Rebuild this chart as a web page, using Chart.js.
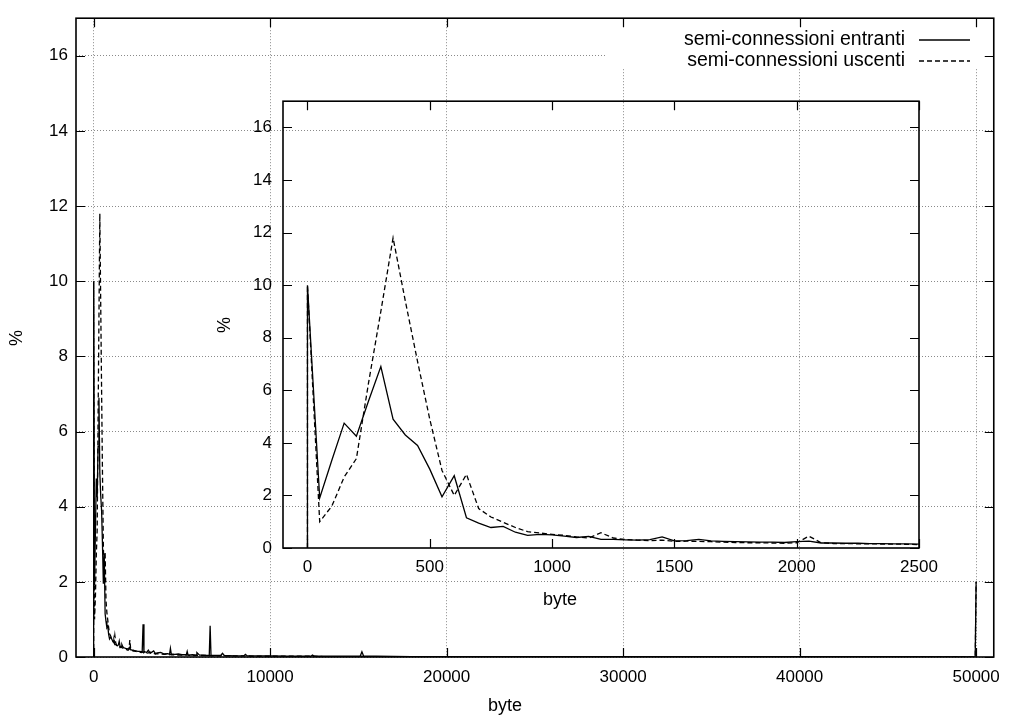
<!DOCTYPE html>
<html>
<head>
<meta charset="utf-8">
<script src="https://cdn.jsdelivr.net/npm/chart.js@4/dist/chart.umd.min.js"></script>
<style>
  html, body { margin: 0; padding: 0; background: #fff; }
  #wrap { position: relative; width: 1010px; height: 718px; }
  #main { position: absolute; left: 0; top: 0; width: 1010px; height: 718px; }
  #inset { position: absolute; left: 200px; top: 80px; width: 760px; height: 540px; }
</style>
</head>
<body>
<div id="wrap">
  <canvas id="main" width="1010" height="718"></canvas>
  <canvas id="inset" width="760" height="540"></canvas>
</div>
<script>
// Size distribution of half-connections, percentage per 50-byte bin
const seriesLabels = ['semi-connessioni entranti', 'semi-connessioni uscenti'];

const binBytes = [0, 50, 100, 150, 200, 250, 300, 350, 400, 450, 500, 550, 600, 650, 700, 750,
  800, 850, 900, 950, 1000, 1050, 1100, 1150, 1200, 1250, 1300, 1350, 1400, 1450, 1500, 1550,
  1600, 1650, 1700, 1750, 1800, 1850, 1900, 1950, 2000, 2050, 2100, 2150, 2200, 2250, 2300,
  2350, 2400, 2450, 2500];

const binIn = [10.0, 1.9, 3.35, 4.75, 4.25, 5.6, 6.9, 4.9, 4.3, 3.9, 3.0, 1.95, 2.75, 1.15, 0.95, 0.78,
  0.82, 0.6, 0.48, 0.52, 0.5, 0.45, 0.4, 0.44, 0.33, 0.33, 0.31, 0.3, 0.32, 0.42, 0.27, 0.28,
  0.33, 0.27, 0.25, 0.24, 0.23, 0.22, 0.22, 0.21, 0.24, 0.26, 0.19, 0.19, 0.18, 0.18, 0.17,
  0.17, 0.16, 0.16, 0.15];

const binOut = [10.0, 1.0, 1.6, 2.7, 3.4, 6.3, 9.0, 11.8, 9.4, 7.1, 4.9, 2.95, 2.0, 2.8, 1.5, 1.18,
  0.98, 0.78, 0.62, 0.57, 0.52, 0.48, 0.42, 0.38, 0.58, 0.38, 0.32, 0.3, 0.28, 0.3, 0.25, 0.26,
  0.25, 0.24, 0.22, 0.21, 0.2, 0.2, 0.19, 0.18, 0.2, 0.45, 0.2, 0.17, 0.17, 0.16, 0.16,
  0.15, 0.15, 0.14, 0.13];

// Long tail beyond 2500 bytes
const tailBytes = [2600, 2700, 2750, 2800, 2850, 2900, 3000, 3100, 3200, 3300, 3400, 3500, 3600,
  3800, 4000, 4200, 4300, 4350, 4400, 4600, 4800, 5000, 5250, 5300, 5350, 5600, 5800, 5850,
  6000, 6200, 6400, 6550, 6600, 6650, 6800, 7000, 7200, 7300, 7400, 8000, 8500, 8600, 8700,
  9000, 9500, 10000, 11000, 12000, 12300, 12400, 12500, 13000, 14000, 15100, 15200, 15300,
  16000, 18000, 20000, 25000, 30000, 35000, 40000, 45000, 49950, 50000];

const tailIn = [0.15, 0.14, 0.13, 0.87, 0.12, 0.14, 0.12, 0.18, 0.10, 0.13, 0.16, 0.09, 0.11,
  0.12, 0.08, 0.09, 0.07, 0.23, 0.08, 0.07, 0.08, 0.06, 0.06, 0.15, 0.05, 0.06, 0.05, 0.12,
  0.05, 0.05, 0.04, 0.04, 0.83, 0.04, 0.04, 0.04, 0.04, 0.10, 0.04, 0.03, 0.03, 0.07, 0.03,
  0.03, 0.03, 0.03, 0.02, 0.02, 0.02, 0.05, 0.02, 0.02, 0.02, 0.02, 0.14, 0.02,
  0.02, 0.01, 0.01, 0.01, 0.01, 0.01, 0.01, 0.01, 0.00, 2.00];

const tailOut = [0.13, 0.12, 0.13, 0.14, 0.11, 0.12, 0.10, 0.11, 0.13, 0.09, 0.10, 0.08, 0.09,
  0.08, 0.07, 0.08, 0.06, 0.07, 0.06, 0.06, 0.05, 0.05, 0.05, 0.06, 0.05, 0.04, 0.04, 0.05,
  0.04, 0.04, 0.04, 0.03, 0.04, 0.03, 0.03, 0.03, 0.03, 0.04, 0.03, 0.03, 0.03, 0.03, 0.03,
  0.02, 0.02, 0.02, 0.02, 0.02, 0.02, 0.02, 0.02, 0.01, 0.01, 0.01, 0.02, 0.01,
  0.01, 0.01, 0.01, 0.01, 0.01, 0.01, 0.01, 0.01, 0.00, 2.00];

// Tick positions
const mainXTicks = [0, 10000, 20000, 30000, 40000, 50000];
const insetXTicks = [0, 500, 1000, 1500, 2000, 2500];
const pctTicks = [0, 2, 4, 6, 8, 10, 12, 14, 16];

const FONT = 'Liberation Sans, Arial, Helvetica, sans-serif';
Chart.defaults.font.family = FONT;
Chart.defaults.font.size = 17;
Chart.defaults.color = '#000';

function points(xs, ys) {
  return xs.map((x, i) => ({ x: x, y: ys[i] }));
}

// Bin list starts from the zero baseline at 0 bytes
const inBins = [{ x: 0, y: 0 }].concat(points(binBytes, binIn));
const outBins = [{ x: 0, y: 0 }].concat(points(binBytes, binOut));

function datasets(inPts, outPts) {
  return [
    { label: seriesLabels[0], data: inPts, borderColor: '#000', borderWidth: 1.3,
      pointRadius: 0, showLine: true, tension: 0 },
    { label: seriesLabels[1], data: outPts, borderColor: '#000', borderWidth: 1.3,
      borderDash: [5, 3], pointRadius: 0, showLine: true, tension: 0 }
  ];
}

// gnuplot-like frame: box border, inward ticks mirrored on all sides, axis titles, key
const framePlugin = {
  id: 'gpFrame',
  afterDatasetsDraw(chart, args, o) {
    const { ctx, chartArea: a, scales } = chart;
    const xs = scales.x, ys = scales.y;
    ctx.save();
    if (o.key) {
      const k = o.key;
      ctx.fillStyle = '#fff';
      ctx.fillRect(k.left, a.top + 1, a.right - 1 - k.left, k.bottom - a.top);
      ctx.fillStyle = '#000';
      ctx.font = k.size + 'px ' + FONT;
      ctx.textAlign = 'right';
      ctx.textBaseline = 'middle';
      chart.data.datasets.forEach((ds, i) => {
        const yy = k.rows[i];
        ctx.fillText(ds.label, k.textRight, yy);
        ctx.beginPath();
        ctx.lineWidth = ds.borderWidth;
        ctx.strokeStyle = '#000';
        ctx.setLineDash(ds.borderDash || []);
        ctx.moveTo(k.lineFrom, yy);
        ctx.lineTo(k.lineTo, yy);
        ctx.stroke();
      });
      ctx.setLineDash([]);
    }
    const L = o.tickLen;
    ctx.strokeStyle = '#000';
    ctx.lineWidth = 1.2;
    ctx.beginPath();
    xs.ticks.forEach(t => {
      const p = Math.round(xs.getPixelForValue(t.value)) + 0.5;
      ctx.moveTo(p, a.bottom); ctx.lineTo(p, a.bottom - L);
      ctx.moveTo(p, a.top); ctx.lineTo(p, a.top + L);
    });
    ys.ticks.forEach(t => {
      const p = Math.round(ys.getPixelForValue(t.value)) + 0.5;
      ctx.moveTo(a.left, p); ctx.lineTo(a.left + L, p);
      ctx.moveTo(a.right, p); ctx.lineTo(a.right - L, p);
    });
    ctx.stroke();
    ctx.lineWidth = 1.6;
    ctx.strokeRect(a.left, a.top, a.right - a.left, a.bottom - a.top);

    ctx.fillStyle = '#000';
    ctx.font = o.titleSize + 'px ' + FONT;
    ctx.textAlign = 'center';
    ctx.textBaseline = 'middle';
    ctx.fillText(o.xTitle, o.xTitlePos[0], o.xTitlePos[1]);
    ctx.translate(o.yTitlePos[0], o.yTitlePos[1]);
    ctx.rotate(-Math.PI / 2);
    ctx.fillText(o.yTitle, 0, 0);
    ctx.restore();
  }
};

function buildOptions(cfg) {
  return {
    responsive: false,
    animation: false,
    events: [],
    layout: { padding: cfg.padding },
    plugins: {
      legend: { display: false },
      tooltip: { enabled: false },
      gpFrame: cfg.frame
    },
    scales: {
      x: {
        type: 'linear',
        min: cfg.xMin, max: cfg.xMax,
        afterFit: s => { s.height = cfg.xAxisHeight; },
        afterBuildTicks: s => { s.ticks = cfg.xTicks.map(v => ({ value: v })); },
        ticks: { padding: cfg.xPad, maxRotation: 0, autoSkip: false, callback: v => String(v) },
        grid: { display: cfg.grid, color: '#8a8a8a', lineWidth: 1, drawTicks: false },
        border: { display: false, dash: [1, 2] }
      },
      y: {
        type: 'linear',
        min: 0, max: 17,
        afterFit: s => { s.width = cfg.yAxisWidth; },
        afterBuildTicks: s => { s.ticks = pctTicks.map(v => ({ value: v })); },
        ticks: { padding: cfg.yPad, autoSkip: false, callback: v => String(v) },
        grid: { display: cfg.grid, color: '#8a8a8a', lineWidth: 1, drawTicks: false },
        border: { display: false, dash: [1, 2] }
      }
    }
  };
}

// Full range, 0 - 50000 bytes
new Chart(document.getElementById('main'), {
  type: 'scatter',
  data: {
    datasets: datasets(inBins.concat(points(tailBytes, tailIn)),
                       outBins.concat(points(tailBytes, tailOut)))
  },
  options: buildOptions({
    padding: { left: 0, top: 18, right: 13, bottom: 0 },
    xMin: -1000, xMax: 51000, xTicks: mainXTicks,
    xAxisHeight: 61, yAxisWidth: 76, xPad: 10, yPad: 8, grid: true,
    frame: {
      tickLen: 9, titleSize: 18,
      xTitle: 'byte', xTitlePos: [505, 706],
      yTitle: '%', yTitlePos: [17, 338],
      key: { left: 605, bottom: 68, size: 19.5, textRight: 905, lineFrom: 919, lineTo: 970, rows: [40, 61] }
    }
  }),
  plugins: [framePlugin]
});

// Detail of the first 2500 bytes
new Chart(document.getElementById('inset'), {
  type: 'scatter',
  data: { datasets: datasets(inBins, outBins) },
  options: buildOptions({
    padding: { left: 0, top: 21, right: 41, bottom: 0 },
    xMin: -100, xMax: 2500, xTicks: insetXTicks,
    xAxisHeight: 72, yAxisWidth: 83, xPad: 9, yPad: 11, grid: false,
    frame: {
      tickLen: 9, titleSize: 18,
      xTitle: 'byte', xTitlePos: [360, 520],
      yTitle: '%', yTitlePos: [25, 245]
    }
  }),
  plugins: [framePlugin]
});
</script>
</body>
</html>
